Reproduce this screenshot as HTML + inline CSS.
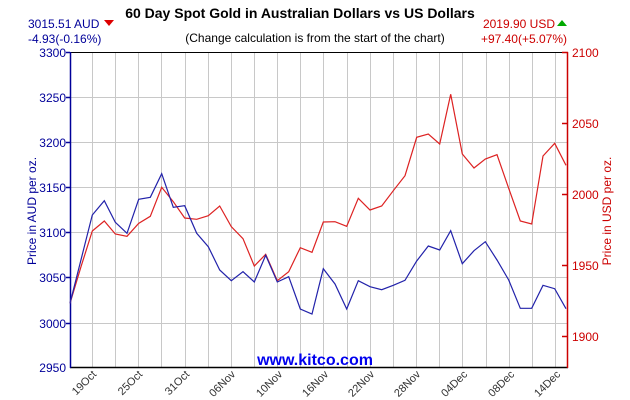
<!DOCTYPE html>
<html><head><style>
html,body{margin:0;padding:0;background:#fff;}
svg{display:block;font-family:"Liberation Sans",Arial,sans-serif;}
</style></head><body>
<svg width="630" height="400" viewBox="0 0 630 400" xmlns="http://www.w3.org/2000/svg">
<rect width="630" height="400" fill="#fff"/>
<text x="300" y="18" font-size="14" font-weight="bold" text-anchor="middle" fill="#000">60 Day Spot Gold in Australian Dollars vs US Dollars</text>
<text x="28" y="28" font-size="12" fill="#000099">3015.51 AUD</text>
<polygon points="104,20 114,20 109,26" fill="#dd0000"/>
<text x="28" y="43" font-size="12" fill="#000099">-4.93(-0.16%)</text>
<text x="315" y="42" font-size="12" text-anchor="middle" fill="#000">(Change calculation is from the start of the chart)</text>
<text x="555" y="28" font-size="12" text-anchor="end" fill="#cc0000">2019.90 USD</text>
<polygon points="557,26 567,26 562,20" fill="#00aa00"/>
<text x="567" y="43" font-size="12" text-anchor="end" fill="#cc0000">+97.40(+5.07%)</text>
<g stroke="#c8c8c8" stroke-width="1">
<line x1="70" y1="97.5" x2="568" y2="97.5"/><line x1="70" y1="142.5" x2="568" y2="142.5"/><line x1="70" y1="187.5" x2="568" y2="187.5"/><line x1="70" y1="232.5" x2="568" y2="232.5"/><line x1="70" y1="277.5" x2="568" y2="277.5"/><line x1="70" y1="323.5" x2="568" y2="323.5"/>
<line x1="92.5" y1="52" x2="92.5" y2="368"/><line x1="115.5" y1="52" x2="115.5" y2="368"/><line x1="138.5" y1="52" x2="138.5" y2="368"/><line x1="161.5" y1="52" x2="161.5" y2="368"/><line x1="185.5" y1="52" x2="185.5" y2="368"/><line x1="208.5" y1="52" x2="208.5" y2="368"/><line x1="231.5" y1="52" x2="231.5" y2="368"/><line x1="254.5" y1="52" x2="254.5" y2="368"/><line x1="277.5" y1="52" x2="277.5" y2="368"/><line x1="300.5" y1="52" x2="300.5" y2="368"/><line x1="323.5" y1="52" x2="323.5" y2="368"/><line x1="347.5" y1="52" x2="347.5" y2="368"/><line x1="370.5" y1="52" x2="370.5" y2="368"/><line x1="393.5" y1="52" x2="393.5" y2="368"/><line x1="416.5" y1="52" x2="416.5" y2="368"/><line x1="439.5" y1="52" x2="439.5" y2="368"/><line x1="462.5" y1="52" x2="462.5" y2="368"/><line x1="486.5" y1="52" x2="486.5" y2="368"/><line x1="509.5" y1="52" x2="509.5" y2="368"/><line x1="532.5" y1="52" x2="532.5" y2="368"/><line x1="555.5" y1="52" x2="555.5" y2="368"/>
</g>
<line x1="70" y1="52.5" x2="568" y2="52.5" stroke="#000" stroke-width="1"/>
<line x1="70" y1="367.5" x2="568" y2="367.5" stroke="#000" stroke-width="1.5"/>
<line x1="70.5" y1="52" x2="70.5" y2="368" stroke="#000099" stroke-width="1.5"/>
<line x1="567.5" y1="52" x2="567.5" y2="368" stroke="#cc0000" stroke-width="1.5"/>
<g stroke="#000099" stroke-width="1.5">
<line x1="66" y1="52.5" x2="70" y2="52.5"/><line x1="66" y1="97.5" x2="70" y2="97.5"/><line x1="66" y1="142.5" x2="70" y2="142.5"/><line x1="66" y1="187.5" x2="70" y2="187.5"/><line x1="66" y1="232.5" x2="70" y2="232.5"/><line x1="66" y1="277.5" x2="70" y2="277.5"/><line x1="66" y1="323.5" x2="70" y2="323.5"/>
</g>
<g font-size="12" fill="#000099" text-anchor="end">
<text x="66" y="57">3300</text><text x="66" y="102">3250</text><text x="66" y="147">3200</text><text x="66" y="192">3150</text><text x="66" y="237">3100</text><text x="66" y="282">3050</text><text x="66" y="328">3000</text><text x="66" y="372">2950</text>
</g>
<g stroke="#cc0000" stroke-width="1.5">
<line x1="562" y1="52.5" x2="568" y2="52.5"/><line x1="562" y1="123.5" x2="568" y2="123.5"/><line x1="562" y1="194.5" x2="568" y2="194.5"/><line x1="562" y1="265.5" x2="568" y2="265.5"/><line x1="562" y1="336.5" x2="568" y2="336.5"/>
</g>
<g font-size="12" fill="#cc0000">
<text x="572" y="57">2100</text><text x="572" y="128">2050</text><text x="572" y="199">2000</text><text x="572" y="270">1950</text><text x="572" y="341">1900</text>
</g>
<text transform="translate(36,211) rotate(-90)" font-size="12" fill="#000099" text-anchor="middle">Price in AUD per oz.</text>
<text transform="translate(611,211) rotate(-90)" font-size="12" fill="#cc0000" text-anchor="middle">Price in USD per oz.</text>
<g font-size="11" fill="#333" text-anchor="end">
<text transform="translate(97,375) rotate(-45)">19Oct</text>
<text transform="translate(143,375) rotate(-45)">25Oct</text>
<text transform="translate(190,375) rotate(-45)">31Oct</text>
<text transform="translate(236,375) rotate(-45)">06Nov</text>
<text transform="translate(283,375) rotate(-45)">10Nov</text>
<text transform="translate(329,375) rotate(-45)">16Nov</text>
<text transform="translate(375,375) rotate(-45)">22Nov</text>
<text transform="translate(421,375) rotate(-45)">28Nov</text>
<text transform="translate(468,375) rotate(-45)">04Dec</text>
<text transform="translate(515,375) rotate(-45)">08Dec</text>
<text transform="translate(561,375) rotate(-45)">14Dec</text>
</g>
<text x="315" y="365" font-size="16" font-weight="bold" fill="#0000ee" text-anchor="middle">www.kitco.com</text>
<polyline fill="none" stroke="#dd2222" stroke-width="1.2" points="70,303.3 81,266.7 92.3,231 104.3,221 115.3,234 127,236.3 138.7,223.3 150.3,216.3 161.7,187.3 173.3,201.7 184.7,218 196.7,219.3 208.3,215.7 219.7,206 231.3,226.7 243,238.7 254.3,266 265.7,254.3 277.3,280.7 288.7,271.7 300.3,247.7 312,252.3 323.3,222 335,221.7 346.7,226.3 358.3,198.3 370,210 381.7,206 393.3,190.7 405,175.7 416.7,137.3 428.3,134 439.7,144 450.7,94.3 462.3,154 474,168 485.3,159 497,154.7 508.7,188.3 520.3,221 531.7,224 543,156 554.7,143.3 566,165.3"/>
<polyline fill="none" stroke="#2222aa" stroke-width="1.2" points="70,303.3 92.3,215 104.3,200.7 115.3,222.3 127,233.3 138.7,199.3 150.3,197.3 161.7,173.7 173.3,207.3 184.7,205.7 196.7,233.3 208.3,246.7 219.7,270 231.3,280.7 243,271.7 254.3,282 265.7,255.3 277.3,282 288.7,276.7 300.3,309 312,314 323.3,268.7 335,284 346.7,309 358.3,280.7 370,286.7 381.7,289.7 393.3,285.3 405,280.3 416.7,261 428.3,246 439.7,250 450.7,230.7 462.3,263.7 474,250.7 485.3,241.7 497,260 508.7,280 520.3,308.3 531.7,308.3 543,285.3 554.7,288.7 566,308.7"/>
</svg>
</body></html>
